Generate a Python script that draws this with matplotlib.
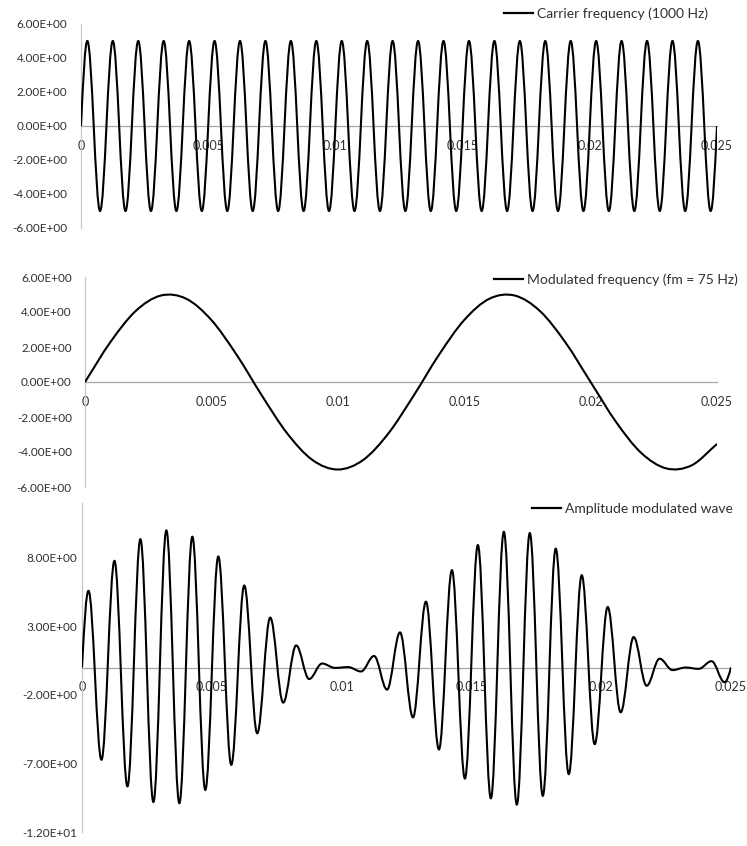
import numpy as np
import matplotlib.pyplot as plt
from matplotlib.path import Path
from matplotlib.patches import PathPatch
from matplotlib.lines import Line2D

plt.rcParams['font.family'] = ['Lato', 'DejaVu Sans']

#Peaks of the 1000 Hz carrier happen every half period (0.5 ms)
peak_t = np.arange(0.00025, 0.025, 0.0005)

carrier_peaks = [5.0, -5.0, 5.0, -5.0, 5.0, -5.0, 5.0, -5.0, 5.0, -5.0,
                 5.0, -5.0, 5.0, -5.0, 5.0, -5.0, 5.0, -5.0, 5.0, -5.0,
                 5.0, -5.0, 5.0, -5.0, 5.0, -5.0, 5.0, -5.0, 5.0, -5.0,
                 5.0, -5.0, 5.0, -5.0, 5.0, -5.0, 5.0, -5.0, 5.0, -5.0,
                 5.0, -5.0, 5.0, -5.0, 5.0, -5.0, 5.0, -5.0, 5.0, -5.0]

am_peaks = [5.59, -6.73, 7.78, -8.67, 9.36, -9.81, 10.0, -9.90, 9.54, -8.93,
            8.10, -7.10, 5.98, -4.80, 3.64, -2.56, 1.61, -0.84, 0.29, -0.03,
            0.03, -0.29, 0.84, -1.61, 2.56, -3.64, 4.80, -5.98, 7.10, -8.10,
            8.93, -9.54, 9.90, -10.0, 9.81, -9.36, 8.67, -7.78, 6.73, -5.59,
            4.41, -3.27, 2.22, -1.33, 0.64, -0.19, 0.00, -0.10, 0.46, -1.07]

#Modulating signal read every 1 ms
mod_t = [0.000, 0.001, 0.002, 0.003, 0.004, 0.005, 0.006, 0.007, 0.008,
         0.009, 0.010, 0.011, 0.012, 0.013, 0.014, 0.015, 0.016, 0.017,
         0.018, 0.019, 0.020, 0.021, 0.022, 0.023, 0.024, 0.025]
mod_vals = [0.00, 2.27, 4.05, 4.94, 4.76, 3.54, 1.55, -0.78, -2.94,
            -4.46, -5.00, -4.46, -2.94, -0.78, 1.55, 3.54, 4.76, 4.94,
            4.05, 2.27, 0.00, -2.27, -4.05, -4.94, -4.76, -3.54]

xticks = [0, 0.005, 0.01, 0.015, 0.02, 0.025]
xlabels = ['0', '0.005', '0.01', '0.015', '0.02', '0.025']

labels = ['Carrier frequency (1000 Hz)',
          'Modulated frequency (fm = 75 Hz)',
          'Amplitude modulated wave']


def smooth_line(ax, t, y, k=1/3, flat_peaks=False):
    #Smoothed line (Bezier) through the points, like Excel does
    t = np.asarray(t, dtype=float)
    y = np.asarray(y, dtype=float)
    n = len(t)
    m = np.zeros(n)
    gain = 1.57 if flat_peaks else 1.0
    m[0] = gain*(y[1]-y[0])/(t[1]-t[0])
    m[-1] = gain*(y[-1]-y[-2])/(t[-1]-t[-2])
    for i in range(1, n-1):
        m[i] = (y[i+1]-y[i-1])/(t[i+1]-t[i-1])
        if flat_peaks and (y[i]-y[i-1])*(y[i+1]-y[i]) <= 0:
            m[i] = 0
    verts = [(t[0], y[0])]
    codes = [Path.MOVETO]
    for i in range(n-1):
        h = t[i+1]-t[i]
        verts += [(t[i]+k*h, y[i]+k*h*m[i]),
                  (t[i+1]-k*h, y[i+1]-k*h*m[i+1]),
                  (t[i+1], y[i+1])]
        codes += [Path.CURVE4]*3
    ax.add_patch(PathPatch(Path(verts, codes), fill=False, ec='black',
                           lw=1.5, zorder=3, capstyle='butt'))


def style(ax, ylim, yticks, ypad):
    ax.set_xlim(0, 0.025)
    ax.set_ylim(*ylim)
    ax.spines['top'].set_visible(False)
    ax.spines['right'].set_visible(False)
    ax.spines['bottom'].set_position(('data', 0))
    ax.spines['bottom'].set_color('#a6a6a6')
    ax.spines['bottom'].set_linewidth(0.9)
    ax.spines['left'].set_color('#c8c8c8')
    ax.spines['left'].set_linewidth(0.9)
    ax.set_xticks(xticks)
    ax.set_xticklabels(xlabels)
    ax.set_yticks(yticks)
    ax.set_yticklabels(['{:.2E}'.format(v) for v in yticks])
    ax.tick_params(length=0, labelsize=8.5, labelcolor='#303030')
    ax.tick_params(axis='x', pad=10, labelsize=9)
    ax.tick_params(axis='y', pad=ypad)
    ax.set_axisbelow(True)
    ax.patch.set_alpha(0)


fig = plt.figure(figsize=(7.47, 8.46), dpi=100)

ax1 = fig.add_axes([81/747, 1-228/846, 636/747, 204/846])
ax2 = fig.add_axes([85/747, 1-487/846, 632/747, 210/846])
ax3 = fig.add_axes([82/747, 1-832/846, 649/747, 329/846])

style(ax1, (-6, 6), [-6, -4, -2, 0, 2, 4, 6], 10)
style(ax2, (-6, 6), [-6, -4, -2, 0, 2, 4, 6], 9.5)
style(ax3, (-12, 12), [-12, -7, -2, 3, 8], 3.5)

smooth_line(ax1, [0] + list(peak_t) + [0.025], [0] + carrier_peaks + [0],
            k=0.364, flat_peaks=True)
smooth_line(ax2, mod_t, mod_vals)
smooth_line(ax3, [0] + list(peak_t) + [0.025], [0] + am_peaks + [0],
            k=0.364, flat_peaks=True)

#Legends at the top right of each panel
anchors = [(708/747, 1-14/846), (738/747, 1-280/846), (733/747, 1-509/846)]
for ax, lab, anc in zip([ax1, ax2, ax3], labels, anchors):
    h = Line2D([], [], color='black', lw=1.6)
    ax.legend([h], [lab], loc='center right', bbox_to_anchor=anc,
              bbox_transform=fig.transFigure, frameon=False, fontsize=10,
              handlelength=2.1, handletextpad=0.3, borderpad=0,
              borderaxespad=0, labelcolor='#303030')

fig.savefig('out.png', dpi=100)
